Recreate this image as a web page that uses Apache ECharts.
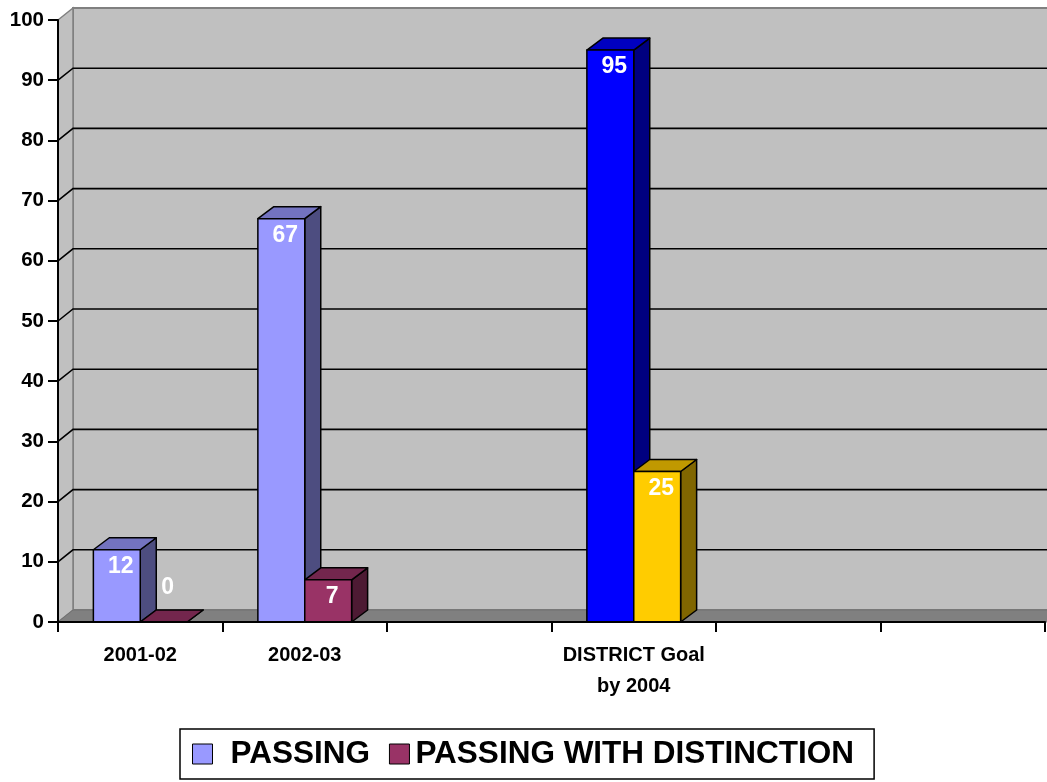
<!DOCTYPE html>
<html>
<head>
<meta charset="utf-8">
<script src="https://cdn.jsdelivr.net/npm/echarts@6/dist/echarts.min.js"></script>
<style>
  html, body { margin: 0; padding: 0; background: #fff; }
  #chart { width: 1047px; height: 782px; }
</style>
</head>
<body>
<div id="chart"></div>
<script>
// data
const categories = ["2001-02", "2002-03", "", "DISTRICT Goal\nby 2004", "", ""];
const passing = [12, 67, null, 95, null, null];
const distinction = [0, 7, null, 25, null, null];
const yTicks = [10, 20, 30, 40, 50, 60, 70, 80, 90];

const FONT = "Arial, 'Liberation Sans', sans-serif";
const BAR_DEPTH = { dx: 16, dy: -12 };
const WALL_DEPTH = { dx: 15, dy: -12 };

// face colours: front / top / side
const passingStyle = { front: "#9999FF", top: "#7373C0", side: "#4D4D80" };
const distinctionStyle = { front: "#993366", top: "#73264D", side: "#4D1A33" };
const goalIndex = 3;
const goalStyles = [
  { front: "#0000FF", top: "#0000C0", side: "#000080" },
  { front: "#FFCC00", top: "#C09900", side: "#806600" },
];

const toPoints = (arr) =>
  arr.map((v, i) => (v === null ? null : [i, v])).filter((d) => d !== null);

// back wall, side wall, floor and gridlines
function renderFrame(params, api) {
  const cs = params.coordSys;
  const xL = cs.x;
  const xR = cs.x + cs.width + 30;
  const yB = api.coord([0, 0])[1];
  const yT = api.coord([0, 100])[1];
  const dx = WALL_DEPTH.dx, dy = WALL_DEPTH.dy;
  const children = [
    {
      type: "rect",
      shape: { x: xL + dx, y: yT + dy, width: xR - xL, height: yB - yT },
      style: { fill: "#C0C0C0", stroke: "#808080", lineWidth: 2 },
    },
    {
      type: "polygon",
      shape: { points: [[xL, yT], [xL + dx, yT + dy], [xL + dx, yB + dy], [xL, yB]] },
      style: { fill: "#C0C0C0", stroke: "#808080", lineWidth: 1.5 },
    },
    {
      type: "polygon",
      shape: { points: [[xL, yB], [xL + dx, yB + dy], [xR, yB + dy], [xR, yB]] },
      style: { fill: "#808080", stroke: "#707070", lineWidth: 1 },
    },
  ];
  yTicks.forEach((v) => {
    const y = api.coord([0, v])[1];
    children.push({
      type: "polyline",
      shape: { points: [[xL, y], [xL + dx, y + dy], [xR, y + dy]] },
      style: { stroke: "#000", lineWidth: 1.6, fill: null },
    });
  });
  return { type: "group", children: children };
}

// 3D looking bar: front rect + top + right side
function barRenderer(seriesIdx, style) {
  return function (params, api) {
    const cat = api.value(0);
    const val = api.value(1);
    const base = api.coord([cat, 0]);
    const top = api.coord([cat, val]);
    const w = api.size([1, 0])[0] * 0.285;
    const x0 = seriesIdx === 0 ? base[0] - w : base[0];
    const x1 = x0 + w;
    const y0 = base[1], y1 = top[1];
    const s = cat === goalIndex ? goalStyles[seriesIdx] : style;
    const dx = BAR_DEPTH.dx, dy = BAR_DEPTH.dy;
    const edge = { stroke: "#000", lineWidth: 1.5, lineJoin: "round" };
    const small = y0 - y1 < 30;
    return {
      type: "group",
      children: [
        {
          type: "polygon",
          shape: { points: [[x1, y1], [x1 + dx, y1 + dy], [x1 + dx, y0 + dy], [x1, y0]] },
          style: Object.assign({ fill: s.side }, edge),
        },
        {
          type: "polygon",
          shape: { points: [[x0, y1], [x0 + dx, y1 + dy], [x1 + dx, y1 + dy], [x1, y1]] },
          style: Object.assign({ fill: s.top }, edge),
        },
        {
          type: "rect",
          shape: { x: x0, y: y1, width: w, height: y0 - y1 },
          style: Object.assign({ fill: s.front }, edge),
        },
        {
          type: "text",
          x: (x0 + x1) / 2 + 4,
          y: small ? y1 - 34 : y1 + 17,
          style: {
            text: String(val),
            fill: "#fff",
            font: "bold 23px " + FONT,
            align: "center",
            verticalAlign: "middle",
          },
        },
      ],
    };
  };
}

const chart = echarts.init(document.getElementById("chart"));

const legendText = {
  fontFamily: FONT,
  fontWeight: "bold",
  fontSize: 31.5,
  color: "#000",
};

const option = {
  animation: false,
  backgroundColor: "#fff",
  grid: { left: 58, right: 2, top: 20, bottom: 160 },
  legend: {
    data: ["PASSING", "PASSING WITH DISTINCTION"],
    left: 180,
    top: 729,
    icon: "rect",
    itemWidth: 20,
    itemHeight: 20,
    itemGap: 19,
    padding: [9, 20, 9, 12],
    borderColor: "#000",
    borderWidth: 1.5,
    itemStyle: { borderColor: "#000", borderWidth: 1 },
    formatter: (name) => (name === "PASSING" ? "{a|" + name + "}" : "{b|" + name + "}"),
    textStyle: Object.assign({}, legendText, {
      rich: {
        a: Object.assign({ padding: [0, 0, 0, 13] }, legendText),
        b: Object.assign({ padding: [0, 0, 0, 1] }, legendText),
      },
    }),
  },
  xAxis: {
    type: "category",
    data: categories,
    z: 5,
    axisLine: { lineStyle: { color: "#000", width: 2 } },
    axisTick: { show: true, interval: 0, length: 10, lineStyle: { color: "#000", width: 2 } },
    axisLabel: {
      interval: 0,
      margin: 18,
      color: "#000",
      fontFamily: FONT,
      fontWeight: "bold",
      fontSize: 20,
      lineHeight: 31,
    },
    splitLine: { show: false },
  },
  yAxis: {
    type: "value",
    min: 0,
    max: 100,
    interval: 10,
    z: 5,
    axisLine: { show: true, lineStyle: { color: "#000", width: 2 } },
    axisTick: { show: true, length: 10, lineStyle: { color: "#000", width: 2 } },
    axisLabel: {
      margin: 14,
      color: "#000",
      fontFamily: FONT,
      fontWeight: "bold",
      fontSize: 20.5,
    },
    splitLine: { show: false },
  },
  series: [
    {
      name: "frame",
      type: "custom",
      z: 0,
      silent: true,
      clip: false,
      renderItem: renderFrame,
      data: [[0, 0]],
    },
    {
      name: "PASSING",
      type: "custom",
      z: 2,
      clip: false,
      itemStyle: { color: passingStyle.front },
      renderItem: barRenderer(0, passingStyle),
      data: toPoints(passing),
    },
    {
      name: "PASSING WITH DISTINCTION",
      type: "custom",
      z: 3,
      clip: false,
      itemStyle: { color: distinctionStyle.front },
      renderItem: barRenderer(1, distinctionStyle),
      data: toPoints(distinction),
    },
  ],
};

chart.setOption(option);
window.addEventListener("resize", () => chart.resize());
</script>
</body>
</html>
